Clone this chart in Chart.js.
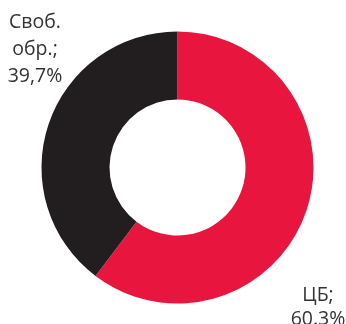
<!DOCTYPE html>
<html><head><meta charset="utf-8">
<script src="https://cdn.jsdelivr.net/npm/chart.js@4"></script>
<style>html,body{margin:0;padding:0;background:#fff}#w{width:346px;height:324px}</style>
</head><body><div id="w"><canvas id="c"></canvas></div>
<script>
const categories = ['ЦБ', 'Своб. обр.'];
const values = [60.3, 39.7];
const labelLines = [['ЦБ;', '60.3%'], ['Своб.', 'обр.;', '39,7%']];
const colors = ['#E8163F', '#221E1F'];

const labelPlugin = {
  id: 'outLabels',
  afterDraw(chart) {
    const ctx = chart.ctx;
    const meta = chart.getDatasetMeta(0);
    const anchors = [[318, 301, 24], [35, 28, 27]]; // x, first baseline, line step
    ctx.save();
    ctx.font = '19.5px "Open Sans", sans-serif';
    ctx.fillStyle = '#333333';
    ctx.textAlign = 'center';
    ctx.textBaseline = 'alphabetic';
    meta.data.forEach((arc, i) => {
      const [x, y, step] = anchors[i];
      labelLines[i].forEach((t, k) => ctx.fillText(t, x, y + k * step));
    });
    ctx.restore();
  }
};

new Chart(document.getElementById('c'), {
  type: 'doughnut',
  data: { labels: categories, datasets: [{ data: values, backgroundColor: colors, borderWidth: 0 }] },
  options: {
    responsive: true, maintainAspectRatio: false, animation: false,
    cutout: '50%',
    layout: { padding: { left: 41.5, right: 32.5, top: 31.5, bottom: 20.5 } },
    plugins: { legend: { display: false }, tooltip: { enabled: false } }
  },
  plugins: [labelPlugin]
});
</script></body></html>
